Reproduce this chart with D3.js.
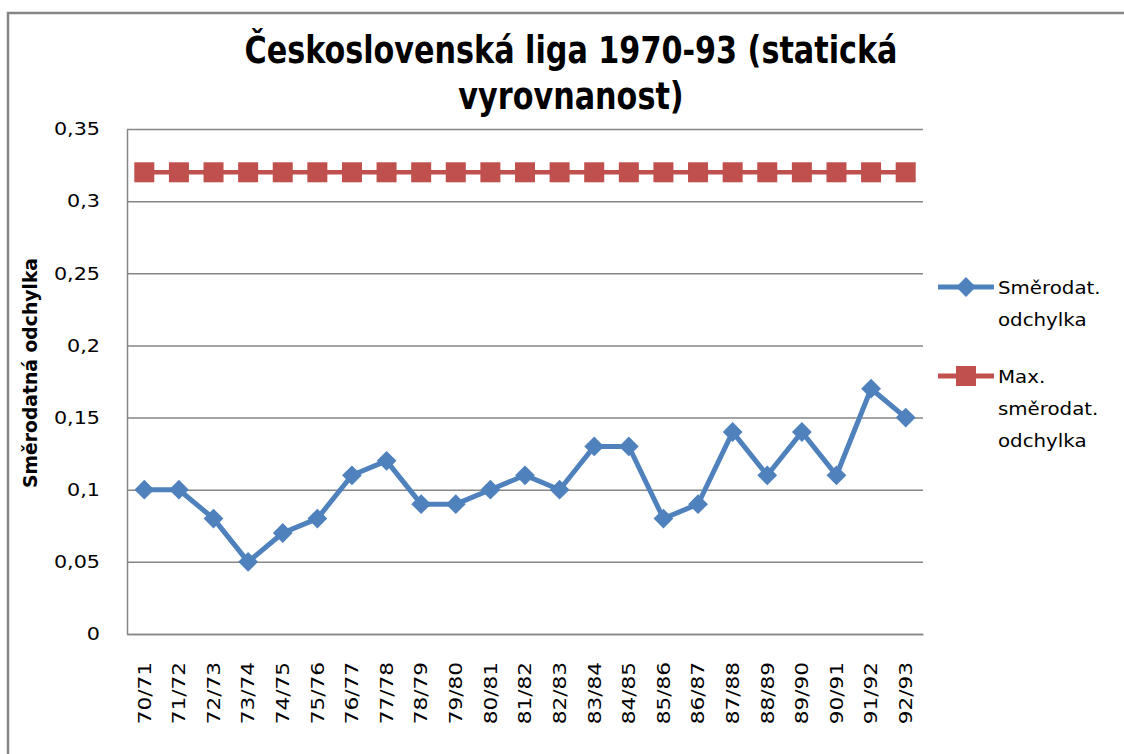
<!DOCTYPE html>
<html>
<head>
<meta charset="utf-8">
<script src="https://cdn.jsdelivr.net/npm/d3@7"></script>
<style>
  body { margin: 0; background: #fff; }
  svg { display: block; font-family: "DejaVu Sans", sans-serif; }
</style>
</head>
<body>
<div id="chart"></div>
<script>
// data
var seasons = ["70/71", "71/72", "72/73", "73/74", "74/75", "75/76", "76/77", "77/78",
  "78/79", "79/80", "80/81", "81/82", "82/83", "83/84", "84/85", "85/86", "86/87",
  "87/88", "88/89", "89/90", "90/91", "91/92", "92/93"];
var stdDev = [0.10, 0.10, 0.08, 0.05, 0.07, 0.08, 0.11, 0.12, 0.09, 0.09, 0.10, 0.11,
  0.10, 0.13, 0.13, 0.08, 0.09, 0.14, 0.11, 0.14, 0.11, 0.17, 0.15];
var maxStdDev = [0.32, 0.32, 0.32, 0.32, 0.32, 0.32, 0.32, 0.32, 0.32, 0.32, 0.32, 0.32,
  0.32, 0.32, 0.32, 0.32, 0.32, 0.32, 0.32, 0.32, 0.32, 0.32, 0.32];
var yTicks = [0, 0.05, 0.1, 0.15, 0.2, 0.25, 0.3, 0.35];
var titleLines = ["Československá liga 1970-93 (statická", "vyrovnanost)"];
var yTitle = "Směrodatná odchylka";
var legendItems = [
  { lines: ["Směrodat.", "odchylka"], color: "#4F81BD", shape: "diamond" },
  { lines: ["Max.", "směrodat.", "odchylka"], color: "#C0504D", shape: "square" }
];

var W = 1124, H = 754;
var margin = { top: 129, right: 201, bottom: 120, left: 127 },
  width = W - margin.left - margin.right,
  height = H - margin.top - margin.bottom;

// the reference text is drawn a bit wider than its height suggests
function stretch(sel, k) {
  sel.each(function () {
    var len = this.getComputedTextLength();
    d3.select(this)
      .attr("textLength", len * k)
      .attr("lengthAdjust", "spacingAndGlyphs");
  });
}

var svg = d3.select("#chart").append("svg")
  .attr("width", W)
  .attr("height", H);

// outer chart border (runs off the right and bottom edge)
svg.append("rect")
  .attr("x", 8)
  .attr("y", 13)
  .attr("width", W + 20)
  .attr("height", H + 20)
  .style("fill", "white")
  .style("stroke", "#868686")
  .style("stroke-width", 2.5);

var g = svg.append("g")
  .attr("transform", "translate(" + margin.left + "," + margin.top + ")");

var x = d3.scaleBand()
  .domain(seasons)
  .range([0, width]);

var y = d3.scaleLinear()
  .domain([0, 0.35])
  .range([height, 0]);

// gridlines
g.append("g")
  .attr("class", "grid")
  .call(d3.axisLeft(y).tickValues(yTicks).tickSize(-width).tickFormat(""))
  .call(function (s) { s.select(".domain").remove(); })
  .selectAll("line")
  .style("stroke", "#868686")
  .style("stroke-width", 1.5);

// y axis
var yAxis = g.append("g")
  .attr("class", "yAxis")
  .call(d3.axisLeft(y).tickValues(yTicks).tickSize(0).tickPadding(27)
    .tickFormat(function (d) { return String(d).replace(".", ","); }));
yAxis.select(".domain").style("stroke", "#868686").style("stroke-width", 1.5);
yAxis.selectAll("text")
  .style("font-size", "18px")
  .style("fill", "#000")
  .style("font-family", "'DejaVu Sans', sans-serif")
  .call(stretch, 1.15);

// x axis
var xAxis = g.append("g")
  .attr("class", "xAxis")
  .attr("transform", "translate(0," + height + ")")
  .call(d3.axisBottom(x).tickSize(0).tickPadding(0));
xAxis.select(".domain").style("stroke", "#868686").style("stroke-width", 1.5);
xAxis.selectAll("text")
  .attr("transform", "rotate(-90)")
  .attr("x", -28)
  .attr("y", 0)
  .attr("dy", "0.35em")
  .style("text-anchor", "end")
  .style("font-size", "18px")
  .style("fill", "#000")
  .style("font-family", "'DejaVu Sans', sans-serif")
  .call(stretch, 1.2);

var cx = function (d, i) { return x(seasons[i]) + x.bandwidth() / 2; };

var line = d3.line()
  .x(cx)
  .y(function (d) { return y(d); });

// max series (red, squares)
g.append("path")
  .datum(maxStdDev)
  .attr("d", line)
  .style("fill", "none")
  .style("stroke", "#C0504D")
  .style("stroke-width", 4.5);

g.selectAll(".sq")
  .data(maxStdDev)
  .enter().append("rect")
  .attr("class", "sq")
  .attr("x", function (d, i) { return cx(d, i) - 10; })
  .attr("y", function (d) { return y(d) - 10; })
  .attr("width", 20)
  .attr("height", 20)
  .style("fill", "#C0504D");

// std dev series (blue, diamonds)
g.append("path")
  .datum(stdDev)
  .attr("d", line)
  .style("fill", "none")
  .style("stroke", "#4F81BD")
  .style("stroke-width", 5);

var diamond = d3.symbol().type(d3.symbolDiamond2).size(250);
g.selectAll(".dm")
  .data(stdDev)
  .enter().append("path")
  .attr("class", "dm")
  .attr("d", diamond)
  .attr("transform", function (d, i) { return "translate(" + cx(d, i) + "," + y(d) + ")"; })
  .style("fill", "#4F81BD");

// title
var title = svg.append("text")
  .attr("text-anchor", "middle")
  .style("font-size", "37px")
  .style("font-weight", "bold")
  .style("font-family", "'DejaVu Sans Condensed', 'DejaVu Sans', sans-serif")
  .style("fill", "#000");
var tspans = title.selectAll("tspan")
  .data(titleLines)
  .enter().append("tspan")
  .attr("x", 571)
  .attr("y", function (d, i) { return 63 + i * 46; })
  .text(function (d) { return d; });
var titleK = 653 / tspans.nodes()[0].getComputedTextLength();
tspans.call(stretch, titleK);

// y axis title
svg.append("text")
  .attr("transform", "translate(37,373) rotate(-90)")
  .attr("text-anchor", "middle")
  .style("font-size", "19px")
  .style("font-weight", "bold")
  .style("font-family", "'DejaVu Sans Condensed', 'DejaVu Sans', sans-serif")
  .style("fill", "#000")
  .text(yTitle)
  .call(function (s) {
    var k = 230 / s.node().getComputedTextLength();
    stretch(s, k);
  });

// legend
var legend = svg.append("g").attr("class", "legend");
var legendY = [287, 376];
legendItems.forEach(function (item, k) {
  var ly = legendY[k];
  var lg = legend.append("g");
  lg.append("line")
    .attr("x1", 938).attr("x2", 994)
    .attr("y1", ly).attr("y2", ly)
    .style("stroke", item.color)
    .style("stroke-width", 5);
  if (item.shape === "square") {
    lg.append("rect")
      .attr("x", 956).attr("y", ly - 10)
      .attr("width", 20).attr("height", 20)
      .style("fill", item.color);
  } else {
    lg.append("path")
      .attr("d", diamond)
      .attr("transform", "translate(966," + ly + ")")
      .style("fill", item.color);
  }
  var lt = lg.append("text")
    .selectAll("tspan")
    .data(item.lines)
    .enter().append("tspan")
    .attr("x", 998)
    .attr("y", function (d, i) { return ly + 7 + i * 32; })
    .style("font-size", "18px")
    .style("fill", "#000")
    .text(function (d) { return d; });
  lt.call(stretch, 1.1);
});
</script>
</body>
</html>
